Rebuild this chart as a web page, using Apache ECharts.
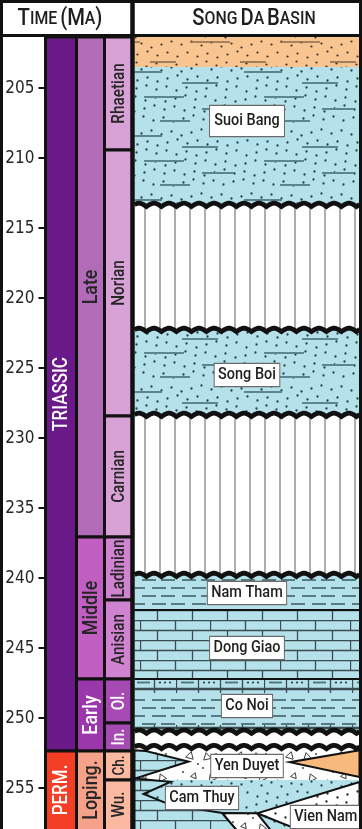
<!DOCTYPE html>
<html>
<head>
<meta charset="utf-8">
<script src="https://cdn.jsdelivr.net/npm/echarts@6/dist/echarts.min.js"></script>
<style>
  html, body { margin: 0; padding: 0; background: #fff; }
  #chart { width: 362px; height: 829px; }
</style>
</head>
<body>
<div id="chart"></div>
<script>
// ---- Time scale (Ma) ----
const ageTicks = [205, 210, 215, 220, 225, 230, 235, 240, 245, 250, 255];
const periods = [['TRIASSIC', 201.35, 252.35], ['PERM.', 252.35, 258.3]];
const epochs = [['Late', 201.35, 237.06], ['Middle', 237.06, 247.21], ['Early', 247.21, 252.35], ['Loping.', 252.35, 258.3]];
const stages = [
  ['Rhaetian', 201.35, 209.42], ['Norian', 209.42, 228.42], ['Carnian', 228.42, 237.06],
  ['Ladinian', 237.06, 241.57], ['Anisian', 241.57, 247.21], ['Ol.', 247.21, 250.35],
  ['In.', 250.35, 252.35], ['Ch.', 252.35, 254.42], ['Wu.', 254.42, 258.3]
];

// ---- Song Da Basin column: [top, base, lithology] ----
const basinUnits = [
  [201.35, 203.49, 'sandOrange'],
  [203.49, 213.35, 'sandShale'],
  [213.35, 222.28, 'hiatus'],
  [222.28, 228.35, 'sandShale'],
  [228.35, 239.78, 'hiatus'],
  [239.78, 242.28, 'shale'],
  [242.28, 247.21, 'limestone'],
  [247.21, 248.20, 'dolostone'],
  [248.20, 250.50, 'shale'],
  [250.50, 250.95, 'dolostone'],
  [250.95, 252.35, 'blank'],
  [252.35, 254.42, 'breccia'],
  [254.42, 258.30, 'sand']
];
// lateral facies wedges: lithology + outline as [position across column (0-1), age]
const wedgeLitho = ['limestone', 'orange', 'limestone', 'breccia', 'sandWhite'];
const wedgeOutlines = [
  [[0, 252.30], [0.05, 252.35], [0.24, 253.10], [0, 254.32]],
  [[1, 252.30], [0.69, 253.15], [1, 254.20]],
  [[0, 254.32], [0.16, 254.55], [0.04, 255.42], [0.16, 256.20], [0.39, 256.78], [0.47, 258.3], [0, 258.3]],
  [[0.39, 256.78], [0.545, 256.80], [0.62, 258.3], [0.47, 258.3]],
  [[1, 254.56], [0.545, 256.80], [0.78, 258.3], [1, 258.3]]
];
// unconformity surfaces (Ma)
const unconformities = [213.35, 222.28, 228.35, 239.78, 250.98, 252.08];
// sharp lithological contacts (Ma)
const contacts = [242.28, 247.21];
// formation names and label anchor [position across column, age]
const formations = ['Suoi Bang', 'Song Boi', 'Nam Tham', 'Dong Giao', 'Co Noi', 'Yen Duyet', 'Cam Thuy', 'Vien Nam'];
const formationAnchors = [[0.5, 207.35], [0.5, 225.49], [0.5, 241.06], [0.5, 244.99], [0.5, 249.14], [0.5, 253.42], [0.30, 255.71], [0.85, 257.06]];

// ---- layout ----
const AXIS_FONT = '"DejaVu Sans Condensed", "DejaVu Sans", sans-serif';
const TEXT_FONT = 'Roboto, "Noto Sans", sans-serif';
const NARROW = 0.85;   // horizontal squeeze for a condensed look
const TOP = 37, PLOT_H = 792;
const AGE_MIN = 201.35, AGE_MAX = AGE_MIN + PLOT_H / 14;
const columns = [[45.5, 76.5], [76.5, 104.5], [104.5, 132.5], [134.5, 359.5]];

const fillColors = {
  'TRIASSIC': '#6a1a88', 'PERM.': '#f23f26',
  'Late': '#b16bb7', 'Middle': '#c05ec2', 'Early': '#9a38ab', 'Loping.': '#f6a18a',
  'Rhaetian': '#d9a2d6', 'Norian': '#d9a2d6', 'Carnian': '#d9a2d6',
  'Ladinian': '#d083d1', 'Anisian': '#d083d1', 'Ol.': '#a74bb4', 'In.': '#a74bb4',
  'Ch.': '#fbb9a1', 'Wu.': '#fbb9a1'
};
const lightText = { 'TRIASSIC': 1, 'PERM.': 1, 'Early': 1, 'Ol.': 1, 'In.': 1 };
const labelSize = { 'Ch.': 16 };
const boxPadding = { 'Suoi Bang': [7, 5, 6, 5] };

const BLUE = '#b5e2ea', ORANGE = '#f8c591';

// ---- lithology fills ----
function tile(w, h, bg, paint) {
  const c = document.createElement('canvas');
  c.width = w; c.height = h;
  const g = c.getContext('2d');
  if (bg) { g.fillStyle = bg; g.fillRect(0, 0, w, h); }
  paint(g, w, h);
  return { image: c, repeat: 'repeat' };
}
function dots(g, w, h, step, color, r) {
  g.fillStyle = color;
  for (let i = 0; i < Math.round(w / step); i++) {
    for (let j = 0; j < Math.round(h / step); j++) {
      const x = i * step + 1.5 + ((i * 7 + j * 13) % 7);
      const y = j * step + 1.5 + ((i * 11 + j * 5 + 3) % 7);
      g.beginPath(); g.arc(x % w, y % h, r, 0, Math.PI * 2); g.fill();
    }
  }
}
function dashes(g, w, list, color, width) {
  g.strokeStyle = color; g.lineWidth = width;
  list.forEach(([x, y, len]) => {
    [0, -w].forEach(off => {
      g.beginPath(); g.moveTo(x + off, y); g.lineTo(x + len + off, y); g.stroke();
    });
  });
}
function triangles(g, list, color) {
  g.strokeStyle = color; g.lineWidth = 1;
  list.forEach(([x, y, s, a]) => {
    g.beginPath();
    for (let k = 0; k < 3; k++) {
      const ang = a + k * 2 * Math.PI / 3;
      const px = x + s * Math.cos(ang), py = y + s * Math.sin(ang);
      k ? g.lineTo(px, py) : g.moveTo(px, py);
    }
    g.closePath(); g.stroke();
  });
}

const fills = {
  sandOrange: tile(90, 40, ORANGE, (g, w, h) => {
    dots(g, w, h, 10, '#3b3026', 1.1);
    dashes(g, w, [[10, 2, 40], [60, 22, 26]], '#8b6d4d', 1.6);
  }),
  sandShale: tile(120, 64, BLUE, (g, w, h) => {
    dots(g, w, h, 10, '#22404c', 1.15);
    dashes(g, w, [[4, 8, 38], [62, 19, 36], [24, 33, 40], [82, 45, 32], [40, 57, 30]], '#5d858f', 2);
  }),
  sand: tile(60, 60, BLUE, (g, w, h) => dots(g, w, h, 10, '#22404c', 1.15)),
  sandWhite: tile(60, 60, '#ffffff', (g, w, h) => dots(g, w, h, 10, '#222', 1.15)),
  hiatus: tile(15, 10, '#ffffff', g => {
    g.strokeStyle = '#9a9a9a'; g.lineWidth = 1.6;
    g.beginPath(); g.moveTo(10, 0); g.lineTo(10, 10); g.stroke();
  }),
  shale: tile(40, 16, BLUE, g => {
    dashes(g, 40, [[1, 4, 14], [22, 4, 14], [11, 12, 14], [32, 12, 14]], '#4d6f78', 1.8);
  }),
  limestone: tile(70, 20, BLUE, g => {
    g.strokeStyle = '#3c4c52'; g.lineWidth = 1.3;
    g.beginPath();
    g.moveTo(0, 0.5); g.lineTo(70, 0.5); g.moveTo(0, 10.5); g.lineTo(70, 10.5);
    g.moveTo(0.5, 0); g.lineTo(0.5, 10); g.moveTo(35.5, 0); g.lineTo(35.5, 10);
    g.moveTo(17.5, 10); g.lineTo(17.5, 20); g.moveTo(52.5, 10); g.lineTo(52.5, 20);
    g.stroke();
  }),
  dolostone: tile(88, 13, BLUE, g => {
    g.strokeStyle = '#3c4c52'; g.lineWidth = 1.3;
    g.beginPath();
    g.moveTo(0, 0.5); g.lineTo(88, 0.5); g.moveTo(0, 12.5); g.lineTo(88, 12.5);
    [0.5, 22.5, 44.5, 66.5].forEach(x => { g.moveTo(x, 0); g.lineTo(x, 13); });
    g.stroke();
    dashes(g, 88, [[5, 6.5, 13], [49, 6.5, 13]], '#4d6f78', 1.8);
    g.fillStyle = '#2d3d44';
    [28, 33, 38, 72, 77, 82].forEach(x => { g.beginPath(); g.arc(x, 6.5, 1.1, 0, 7); g.fill(); });
  }),
  breccia: tile(50, 50, '#ffffff', (g, w, h) => {
    triangles(g, [[7, 7, 4.5, 0.3], [24, 13, 3.5, 1.8], [40, 6, 4.5, 2.9], [44, 26, 3.5, 0.9],
      [12, 28, 4.5, 2.2], [29, 33, 3.5, 0.1], [41, 42, 4.5, 1.4], [6, 44, 3.5, 2.7], [22, 46, 4, 0.6]], '#3d3d3d');
    g.fillStyle = '#333';
    [[16, 4], [33, 22], [3, 18], [48, 14], [19, 38], [34, 47]].forEach(([x, y]) => {
      g.beginPath(); g.arc(x, y, 0.9, 0, 7); g.fill();
    });
  }),
  blank: '#ffffff',
  orange: '#f8b97c'
};

// ---- renderers ----
function cellRenderer(list) {
  return function (params, api) {
    const item = list[api.value(2)];
    const cs = params.coordSys;
    const a = api.coord([0, item[1]]), b = api.coord([1, item[2]]);
    const y0 = Math.max(a[1], cs.y), y1 = Math.min(b[1], cs.y + cs.height);
    const name = item[0];
    const size = labelSize[name] || (list === stages ? 18 : list === epochs ? 21 : 20);
    return {
      type: 'group',
      children: [
        { type: 'rect', shape: { x: a[0], y: a[1], width: b[0] - a[0], height: b[1] - a[1] },
          style: { fill: fillColors[name], stroke: '#111', lineWidth: 3 } },
        { type: 'text', x: (a[0] + b[0]) / 2 + 1, y: (y0 + y1) / 2, rotation: Math.PI / 2, scaleX: NARROW,
          style: { text: name, fill: lightText[name] ? '#ffffff' : '#262626', fontSize: size,
                   fontWeight: 500, fontFamily: TEXT_FONT, align: 'center', verticalAlign: 'middle' } }
      ]
    };
  };
}

function unitRenderer(params, api) {
  const u = basinUnits[api.value(2)];
  const a = api.coord([0, u[0]]), b = api.coord([1, u[1]]);
  return { type: 'rect', shape: { x: a[0], y: a[1], width: b[0] - a[0], height: b[1] - a[1] },
           style: { fill: fills[u[2]], stroke: null } };
}

function wedgeRenderer(params, api) {
  const i = api.value(0);
  const pts = wedgeOutlines[i].map(p => api.coord(p));
  return { type: 'polygon', shape: { points: pts },
           style: { fill: fills[wedgeLitho[i]], stroke: '#111', lineWidth: 2, lineJoin: 'miter' } };
}

function waveRenderer(params, api) {
  const y0 = api.coord([0, api.value(0)])[1];
  const cs = params.coordSys;
  const pts = [];
  for (let x = cs.x; x <= cs.x + cs.width + 0.5; x += 1) {
    pts.push([x, y0 + 1.6 - 3.4 * Math.abs(Math.sin((x - cs.x + 3) / 15 * Math.PI))]);
  }
  return { type: 'polyline', shape: { points: pts }, style: { stroke: '#111', lineWidth: 4.8, fill: null } };
}

function contactRenderer(params, api) {
  const a = api.coord([0, api.value(0)]), b = api.coord([1, api.value(0)]);
  return { type: 'line', shape: { x1: a[0], y1: a[1], x2: b[0], y2: b[1] }, style: { stroke: '#111', lineWidth: 2 } };
}

function labelRenderer(params, api) {
  const i = api.value(0);
  const p = api.coord(formationAnchors[i]);
  return { type: 'text', x: p[0], y: p[1], scaleX: NARROW,
           style: { text: formations[i], fill: '#1e1e1e', fontSize: 17, fontWeight: 500, fontFamily: TEXT_FONT,
                    align: 'center', verticalAlign: 'middle', backgroundColor: '#ffffff',
                    borderColor: '#6a6a6a', borderWidth: 1.2,
                    padding: boxPadding[formations[i]] || [3, 4, 2, 4] } };
}

// ---- chart ----
const grids = columns.map(c => ({ left: c[0], width: c[1] - c[0], top: TOP, height: PLOT_H }));
const xAxes = grids.map((g, i) => ({ type: 'value', gridIndex: i, min: 0, max: 1, show: false }));
const yAxes = grids.map((g, i) => ({
  type: 'value', gridIndex: i, inverse: true, min: AGE_MIN, max: AGE_MAX, show: i === 0,
  position: 'left', axisLine: { show: false }, splitLine: { show: false },
  axisTick: { show: true, length: 7, customValues: ageTicks, lineStyle: { color: '#111', width: 2 } },
  axisLabel: { customValues: ageTicks, fontSize: 17, fontFamily: AXIS_FONT, color: '#262626', margin: 11 }
}));

function custom(idx, data, renderItem, z) {
  return { type: 'custom', xAxisIndex: idx, yAxisIndex: idx, data, renderItem, z, clip: false, silent: true, animation: false };
}
const idxData = list => list.map((d, i) => [d[1], d[2], i]);

const series = [
  custom(0, idxData(periods), cellRenderer(periods), 2),
  custom(1, idxData(epochs), cellRenderer(epochs), 2),
  custom(2, idxData(stages), cellRenderer(stages), 2),
  custom(3, basinUnits.map((u, i) => [u[0], u[1], i]), unitRenderer, 1),
  custom(3, contacts.map(t => [t]), contactRenderer, 2),
  custom(3, wedgeOutlines.map((w, i) => [i]), wedgeRenderer, 3),
  custom(3, unconformities.map(t => [t]), waveRenderer, 4),
  custom(3, formations.map((f, i) => [i]), labelRenderer, 5)
];

const smallCaps = {
  b: { fontSize: 23, fontWeight: 500, fontFamily: TEXT_FONT, fill: '#1e1e1e' },
  s: { fontSize: 18, fontWeight: 500, fontFamily: TEXT_FONT, fill: '#1e1e1e' }
};

const option = {
  animation: false,
  backgroundColor: '#ffffff',
  grid: grids, xAxis: xAxes, yAxis: yAxes, series,
  graphic: [
    { type: 'text', x: 60, y: 19, z: 50, scaleX: 0.88,
      style: { text: '{b|T}{s|IME} {b|(M}{s|A}{b|)}', rich: smallCaps, align: 'center', verticalAlign: 'middle' } },
    { type: 'text', x: 254, y: 19, z: 50, scaleX: 0.88,
      style: { text: '{b|S}{s|ONG} {b|D}{s|A} {b|B}{s|ASIN}', rich: smallCaps, align: 'center', verticalAlign: 'middle' } },
    { type: 'line', z: 60, shape: { x1: 0, y1: 35.5, x2: 362, y2: 35.5 }, style: { stroke: '#111', lineWidth: 3 } },
    { type: 'line', z: 60, shape: { x1: 132.5, y1: 0, x2: 132.5, y2: 840 }, style: { stroke: '#111', lineWidth: 4.5 } },
    { type: 'rect', z: 60, shape: { x: 1.5, y: 1.5, width: 359, height: 850 }, style: { fill: null, stroke: '#111', lineWidth: 3 } }
  ]
};

const chart = echarts.init(document.getElementById('chart'));
chart.setOption(option);
</script>
</body>
</html>
